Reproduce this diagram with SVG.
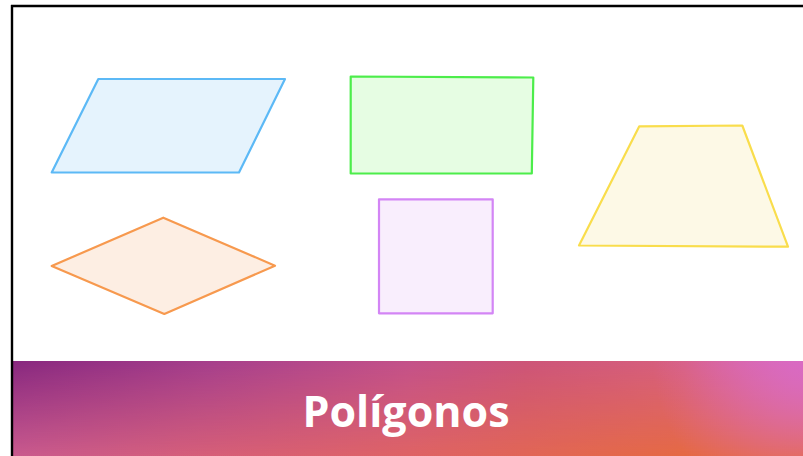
<svg xmlns="http://www.w3.org/2000/svg" width="803" height="456" viewBox="0 0 803 456">
<defs>
<style>
.shape{stroke-width:2.2;stroke-linejoin:round}
.title{font-family:"Open Sans","Liberation Sans",sans-serif;font-weight:700;fill:#ffffff}
</style>
<linearGradient id="topRow" gradientUnits="userSpaceOnUse" x1="11" y1="0" x2="803" y2="0">
<stop offset="0" stop-color="#88287f"/>
<stop offset="0.25" stop-color="#a63f8c"/>
<stop offset="0.5" stop-color="#c4518a"/>
<stop offset="0.65" stop-color="#cd5579"/>
<stop offset="0.85" stop-color="#d8607f"/>
<stop offset="1" stop-color="#d96ab8"/>
</linearGradient>
<linearGradient id="botRow" gradientUnits="userSpaceOnUse" x1="11" y1="0" x2="803" y2="0">
<stop offset="0" stop-color="#c95a8e"/>
<stop offset="0.25" stop-color="#d65f78"/>
<stop offset="0.5" stop-color="#de6365"/>
<stop offset="0.75" stop-color="#e3684c"/>
<stop offset="1" stop-color="#e86c36"/>
</linearGradient>
<linearGradient id="fadeV" x1="0" y1="0" x2="0" y2="1">
<stop offset="0" stop-color="#fff" stop-opacity="0"/>
<stop offset="1" stop-color="#fff" stop-opacity="1"/>
</linearGradient>
<mask id="vmask" maskUnits="userSpaceOnUse" x="11" y="361" width="792" height="95">
<rect x="11" y="361" width="792" height="95" fill="url(#fadeV)"/>
</mask>
<radialGradient id="pink" gradientUnits="userSpaceOnUse" cx="803" cy="361" r="150">
<stop offset="0" stop-color="#d96ac4" stop-opacity="0.9"/>
<stop offset="1" stop-color="#d96ac4" stop-opacity="0"/>
</radialGradient>
</defs>
<rect x="0" y="0" width="803" height="456" fill="#ffffff"/>
<g id="banner">
<rect x="11" y="361" width="792" height="95" fill="url(#topRow)"/>
<rect x="11" y="361" width="792" height="95" fill="url(#botRow)" mask="url(#vmask)"/>
<rect x="11" y="361" width="792" height="95" fill="url(#pink)"/>
<text class="title" x="406" y="427" font-size="43" text-anchor="middle">Polígonos</text>
</g>
<g id="frame">
<line x1="12" y1="5" x2="12" y2="456" stroke="#000" stroke-width="2.4"/>
<line x1="11" y1="6" x2="803" y2="6" stroke="#000" stroke-width="2.4"/>
</g>
<g id="parallelogram">
<polygon class="shape" points="51.7,172.5 98.3,79 285,79 239,172.5" fill="#e5f3fd" stroke="#5cb9f6"/>
</g>
<g id="rectangle">
<polygon class="shape" points="350.7,76.5 533.3,77.5 531.8,173.5 350.7,173.5" fill="#e6fde3" stroke="#4ced4a"/>
</g>
<g id="trapezoid">
<polygon class="shape" points="639.3,126.3 742.3,125.5 788,246.7 579,245.5" fill="#fdf9e6" stroke="#f9dd4c"/>
</g>
<g id="rhombus">
<polygon class="shape" points="163.3,217.7 275,265.7 164.3,314 51.7,266" fill="#fdeee3" stroke="#f7994e"/>
</g>
<g id="square">
<polygon class="shape" points="379,199.3 492.7,199.3 492.7,313.3 379,313.3" fill="#f9eefd" stroke="#d385f5"/>
</g>
</svg>
